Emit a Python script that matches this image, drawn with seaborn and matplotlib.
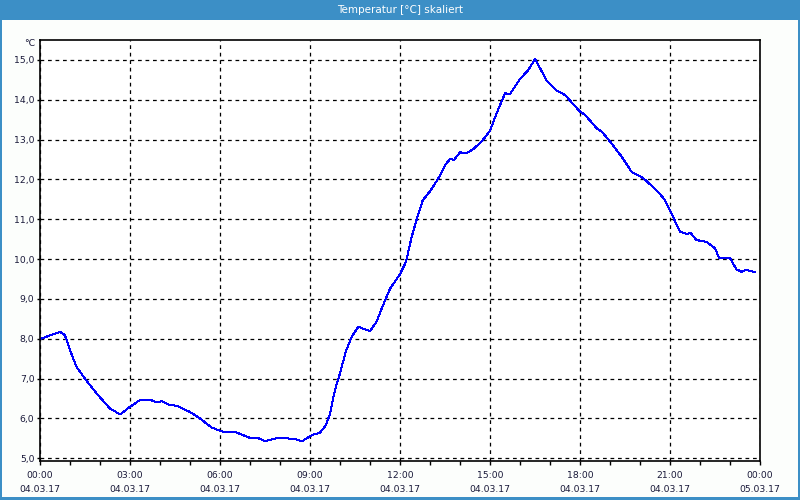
import numpy as np
import pandas as pd
import matplotlib
matplotlib.use("Agg")
import matplotlib.pyplot as plt
import seaborn as sns
from matplotlib.patches import Rectangle

# hours since 04.03.17 00:00 and temperature in degC
hours = [0.0, 0.06, 0.67, 0.83, 1.0, 1.22, 1.44, 1.67, 1.94, 2.33, 2.67, 3.0,
         3.33, 3.67, 3.89, 4.06, 4.33, 4.56, 5.0, 5.33, 5.72, 6.11, 6.5, 7.0,
         7.22, 7.5, 8.0, 8.56, 8.72, 9.06, 9.33, 9.53, 9.67, 9.83, 10.0, 10.19,
         10.39, 10.61, 11.0, 11.22, 11.39, 11.67, 12.0, 12.2, 12.39, 12.58,
         12.76, 13.0, 13.33, 13.5, 13.67, 13.8, 14.0, 14.22, 14.44, 14.72, 15.0,
         15.22, 15.5, 15.67, 16.0, 16.28, 16.5, 16.64, 16.89, 17.22, 17.5, 18.0,
         18.17, 18.56, 18.72, 18.94, 19.39, 19.72, 20.11, 20.33, 20.67, 20.83,
         21.02, 21.33, 21.56, 21.69, 21.87, 22.22, 22.5, 22.64, 23.0, 23.22,
         23.39, 23.5, 23.64, 23.83]
temps = [7.98, 8.01, 8.17, 8.09, 7.71, 7.29, 7.06, 6.83, 6.58, 6.25, 6.10, 6.29,
         6.46, 6.47, 6.40, 6.43, 6.33, 6.32, 6.16, 6.00, 5.77, 5.66, 5.66, 5.51,
         5.52, 5.43, 5.52, 5.47, 5.42, 5.58, 5.64, 5.83, 6.12, 6.71, 7.13, 7.67,
         8.05, 8.30, 8.19, 8.43, 8.76, 9.26, 9.62, 9.93, 10.56, 11.06,
         11.48, 11.70, 12.09, 12.36, 12.51, 12.49, 12.68, 12.66, 12.76, 12.95, 13.22,
         13.66, 14.16, 14.15, 14.52, 14.75, 15.02, 14.83, 14.48, 14.23, 14.12, 13.70,
         13.62, 13.28, 13.20, 13.01, 12.57, 12.19, 12.03, 11.88, 11.63, 11.48,
         11.19, 10.69, 10.63, 10.66, 10.48, 10.43, 10.27, 10.02, 10.02, 9.74,
         9.68, 9.72, 9.71, 9.67]

x_ticks = [0, 3, 6, 9, 12, 15, 18, 21, 24]
x_labels = ["00:00\n04.03.17", "03:00\n04.03.17", "06:00\n04.03.17",
            "09:00\n04.03.17", "12:00\n04.03.17", "15:00\n04.03.17",
            "18:00\n04.03.17", "21:00\n04.03.17", "00:00\n05.03.17"]
y_ticks = [5, 6, 7, 8, 9, 10, 11, 12, 13, 14, 15]
y_labels = ["5,0", "6,0", "7,0", "8,0", "9,0", "10,0", "11,0", "12,0",
            "13,0", "14,0", "15,0"]

BLUE_BAR = "#3C8FC6"
TXT = "#1a1a3a"

sns.set_style("white")
plt.rcParams["font.family"] = ["DejaVu Sans"]

df = pd.DataFrame({"hour": hours, "temp": temps})

fig = plt.figure(figsize=(8, 5), dpi=100)
fig.patch.set_facecolor("#FCFEFC")

# window title bar and frame
fig.patches.append(Rectangle((0, 1 - 20 / 500), 1, 20 / 500, transform=fig.transFigure,
                             facecolor=BLUE_BAR, edgecolor="none", zorder=0))
fig.patches.append(Rectangle((0, 0), 2 / 800, 1, transform=fig.transFigure,
                             facecolor=BLUE_BAR, edgecolor="none"))
fig.patches.append(Rectangle((1 - 2 / 800, 0), 2 / 800, 1, transform=fig.transFigure,
                             facecolor=BLUE_BAR, edgecolor="none"))
fig.patches.append(Rectangle((0, 0), 1, 3 / 500, transform=fig.transFigure,
                             facecolor=BLUE_BAR, edgecolor="none"))
fig.text(0.5, 1 - 10 / 500, "Temperatur [°C] skaliert", ha="center", va="center",
         color="white", fontsize=7.5)

ax = fig.add_axes([40 / 800, 39 / 500, 720 / 800, 421 / 500])
ax.set_facecolor("white")
sns.lineplot(data=df, x="hour", y="temp", ax=ax, color="#0000FF", linewidth=0.72)
for ln in ax.lines:
    ln.set_antialiased(False)

ax.set_xlim(0, 24)
ax.set_ylim(4.93, 15.5)
ax.set_xticks(x_ticks)
ax.set_xticklabels(x_labels, fontsize=6.7, color=TXT, linespacing=1.75)
ax.set_xticks(range(25), minor=True)
ax.set_yticks(y_ticks)
ax.set_yticklabels(y_labels, fontsize=6.7, color=TXT)
ax.tick_params(axis="x", which="both", direction="out", length=3, width=1,
               color="black", pad=4, bottom=True)
ax.tick_params(axis="y", which="both", length=2, width=1, color="black", pad=2, left=True)
ax.set_xlabel("")
ax.set_ylabel("")

ax.grid(True, which="major", color="black", linestyle=(0, (3, 3)), linewidth=0.9)
for s in ax.spines.values():
    s.set_color("black")
    s.set_linewidth(1.2)

fig.text(35 / 800, 1 - 44 / 500, "°C", ha="right", va="center", fontsize=6.7, color=TXT)

fig.savefig("out.png", dpi=100, facecolor=fig.get_facecolor())
